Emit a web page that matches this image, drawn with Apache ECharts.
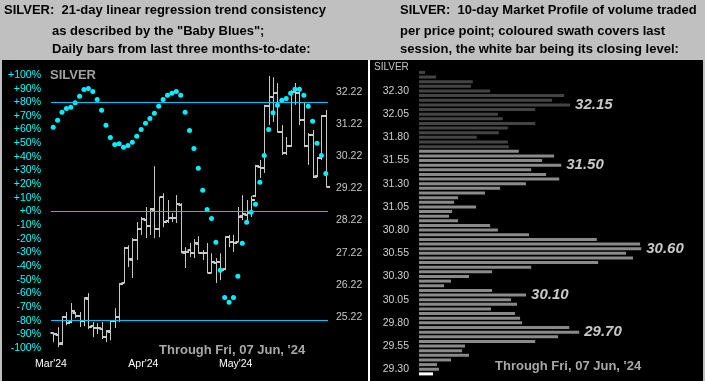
<!DOCTYPE html>
<html><head><meta charset="utf-8">
<script src="https://cdn.jsdelivr.net/npm/echarts@6/dist/echarts.min.js"></script>
<style>
html,body{margin:0;padding:0;background:#c0c0c0;}
#wrap{position:relative;width:705px;height:381px;overflow:hidden;background:#c0c0c0}
.panel{position:absolute;background:#000}
#chart{position:absolute;left:0;top:0;width:705px;height:381px}
</style>
</head><body>
<div id="wrap">
<div class="panel" style="left:2px;top:60px;width:701px;height:321px"></div>
<div class="panel" style="left:368px;top:60px;width:2px;height:321px;background:#fff"></div>
<div id="chart"></div>
</div>
<script>
// ---------- Left panel: daily bars (price) ----------
const opens  = [24.72,24.66,24.40,25.20,25.05,25.35,25.25,25.10,25.78,24.92,
                24.88,24.85,24.60,24.76,25.08,25.22,26.28,27.35,27.00,27.60,
                27.95,28.25,28.05,28.55,27.95,28.95,28.20,28.30,28.30,28.70,
                27.22,27.30,27.20,27.50,27.22,27.20,26.60,26.90,26.92,26.70,
                27.70,27.55,27.55,28.35,28.40,28.45,28.98,29.90,29.85,31.78,
                32.05,32.20,30.97,30.32,30.55,32.22,32.20,31.35,30.55,30.88,
                29.60,30.16,31.47];
const highs  = [24.74,24.90,25.24,25.37,25.65,25.37,25.37,25.83,25.96,25.06,
                25.02,25.06,24.81,25.12,25.49,26.27,27.39,27.45,27.67,28.17,
                28.33,28.64,28.61,29.91,28.95,29.07,28.86,28.45,29.01,28.76,
                27.39,27.52,27.64,27.73,27.30,27.52,27.20,27.05,27.20,27.73,
                27.77,27.77,28.64,29.01,28.86,28.98,29.95,30.10,31.82,32.72,
                32.68,32.50,31.19,30.82,32.28,32.50,32.38,31.91,30.94,31.04,
                30.20,31.50,31.66];
const lows   = [24.43,24.28,24.34,24.96,25.02,25.18,24.90,24.93,24.84,24.59,
                24.68,24.53,24.43,24.49,24.87,25.06,26.27,26.77,26.43,26.99,
                27.77,27.67,27.77,27.67,27.70,28.01,28.14,28.17,28.14,27.20,
                26.74,27.08,27.05,27.20,26.99,26.58,26.58,26.27,26.36,26.67,
                27.39,27.24,27.55,28.23,28.17,28.33,28.95,29.54,29.70,31.19,
                31.29,30.97,30.26,30.26,30.51,31.82,31.19,30.50,29.95,29.54,
                29.57,30.10,29.26];
const closes = [24.68,24.37,25.21,25.02,25.40,25.24,25.09,25.80,24.90,24.87,
                24.87,24.59,24.78,25.09,25.21,26.24,27.36,27.02,27.61,27.95,
                28.26,28.05,28.58,27.95,28.95,28.17,28.29,28.29,28.73,27.24,
                27.24,27.20,27.52,27.20,27.20,26.58,26.92,26.92,26.67,27.70,
                27.55,27.52,28.33,28.42,28.45,28.86,29.91,29.85,31.78,32.06,
                32.19,30.97,30.32,30.54,32.22,32.19,31.35,30.54,30.88,29.57,
                30.16,31.47,29.26];
// "Baby Blues": 21-day linear regression trend consistency (%)
const babyBlues = [61.8,66.9,72.7,75.5,76.4,79.6,84.5,89.4,90.1,87.9,
                   82.1,74.2,63.2,54.2,49.1,49.6,47.1,48.4,50.8,55.2,
                   60.1,64.7,68.1,72.0,77.1,82.1,85.2,86.7,87.9,85.2,
                   72.7,59.3,46.2,31.7,15.6,1.5,-5.1,-22.5,-43.0,-63.0,
                   -66.4,-63.0,-47.4,-23.2,-7.8,-0.5,5.3,21.5,41.0,60.1,
                   72.3,77.9,81.5,82.8,86.7,89.6,89.6,85.2,77.1,66.2,
                   50.0,41.0,27.8];
const trendLines = [80, 0, -80];
const monthLabels = ["Mar'24", "Apr'24", "May'24"];
const monthStartIdx = [0, 21, 42];
const priceTicks = [24.22,25.22,26.22,27.22,28.22,29.22,30.22,31.22,32.22];

// ---------- Right panel: 10-day market profile ----------
const profileLevels = ['29.25','29.30','29.35','29.40','29.45','29.50','29.55','29.60','29.65','29.70',
  '29.75','29.80','29.85','29.90','29.95','30.00','30.05','30.10','30.15','30.20',
  '30.25','30.30','30.35','30.40','30.45','30.50','30.55','30.60','30.65','30.70',
  '30.75','30.80','30.85','30.90','30.95','31.00','31.05','31.10','31.15','31.20',
  '31.25','31.30','31.35','31.40','31.45','31.50','31.55','31.60','31.65','31.70',
  '31.75','31.80','31.85','31.90','31.95','32.00','32.05','32.10','32.15','32.20',
  '32.25','32.30','32.35','32.40','32.45','32.50'];
const profileVolume = [6.3,9.0,8.1,14.4,22.5,19.4,20.7,52.3,62.6,72.1,
  67.6,46.4,45.5,43.2,32.4,44.1,41.4,48.2,32.9,11.3,
  14.4,22.5,32.9,50.5,80.6,96.3,93.2,100,99.5,80.0,
  49.5,35.5,32.0,17.6,13.5,14.9,25.7,15.8,17.6,29.7,
  36.5,48.1,63.1,57.2,50.5,64.0,55.4,60.8,44.9,40.4,
  40.0,26.0,35.9,40.0,52.3,37.7,35.5,52.3,68.0,59.9,
  65.3,32.0,23.4,24.2,7.7,2.7];
const profileMarks = ['32.15','31.50','30.60','30.10','29.70'];
const sessionHigh = 31.65, sessionLow = 29.30, closeLevel = '29.25';

// ---------- build ----------
const FONT = '"Liberation Sans", Arial, sans-serif';
const ohlcData = opens.map((o, i) => [i, o, highs[i], lows[i], closes[i]]);
const dotData = babyBlues.map((v, i) => [i, v]);
const monthPos = monthStartIdx.map(i => i - 0.5);

const profileData = profileLevels.map((lv, i) => {
  const p = parseFloat(lv);
  let col = '#444444';
  if (lv === closeLevel) col = '#ffffff';
  else if (p <= sessionHigh + 1e-9 && p >= sessionLow - 1e-9) col = '#8a8a8a';
  return {value: profileVolume[i], itemStyle: {color: col},
          label: {show: profileMarks.indexOf(lv) >= 0}};
});

function txt(x, y, text, font, fill) {
  return {type: 'text', x: x, y: y, silent: true,
    style: {text: text, font: font, fill: fill, verticalAlign: 'middle', align: 'left'}};
}

const chart = echarts.init(document.getElementById('chart'), null, {renderer: 'canvas'});
const option = {
  backgroundColor: 'transparent',
  animation: false,
  grid: [
    {left: 51, top: 75, width: 277, height: 273, outerBoundsMode: 'none', containLabel: false},
    {left: 419, top: 70.1, width: 280, height: 306.1, outerBoundsMode: 'none', containLabel: false}
  ],
  xAxis: [
    {gridIndex: 0, type: 'value', min: -0.5, max: 62.5,
     axisLine: {show: false}, axisTick: {show: false}, splitLine: {show: false},
     axisLabel: {customValues: monthPos, color: '#ffffff', fontSize: 10.5, fontFamily: FONT, margin: 11,
       formatter: v => { const k = monthPos.findIndex(m => Math.abs(m - v) < 1e-6); return k >= 0 ? monthLabels[k] : ''; }}},
    {gridIndex: 1, type: 'value', min: 0, max: 126, show: false}
  ],
  yAxis: [
    {gridIndex: 0, type: 'value', position: 'left', min: -100, max: 100, interval: 10,
     axisLine: {show: false}, axisTick: {show: false}, splitLine: {show: false},
     axisLabel: {color: '#00ffff', fontSize: 10.5, fontFamily: FONT, margin: 10,
       formatter: v => (v >= 0 ? '+' + v : '' + v) + '%'}},
    {gridIndex: 0, type: 'value', position: 'right', min: 24.25, max: 32.75,
     axisLine: {show: false}, axisTick: {show: false}, splitLine: {show: false},
     axisLabel: {customValues: priceTicks, color: '#c8c8c8', fontSize: 10.5, fontFamily: FONT, margin: 8,
       formatter: v => v.toFixed(2)}},
    {gridIndex: 1, type: 'category', data: profileLevels,
     axisLine: {show: false}, axisTick: {show: false}, splitLine: {show: false},
     axisLabel: {color: '#d0d0d0', fontSize: 10.5, fontFamily: FONT, margin: 10,
       interval: (idx) => idx % 5 === 1}}
  ],
  series: [
    {type: 'custom', xAxisIndex: 0, yAxisIndex: 1, data: ohlcData,
     dimensions: ['i', 'open', 'high', 'low', 'close'],
     encode: {x: 0, y: [1, 2, 3, 4]},
     renderItem: function (params, api) {
       const i = api.value(0);
       const ph = api.coord([i, api.value(2)]);
       const pl = api.coord([i, api.value(3)]);
       const po = api.coord([i, api.value(1)]);
       const pc = api.coord([i, api.value(4)]);
       const x = Math.round(ph[0]) + 0.5;
       const col = '#c8c8c8';
       return {type: 'group', children: [
         {type: 'line', shape: {x1: x, y1: ph[1], x2: x, y2: pl[1]}, style: {stroke: col, lineWidth: 1}},
         {type: 'line', shape: {x1: x - 3, y1: Math.round(po[1]), x2: x, y2: Math.round(po[1])}, style: {stroke: col, lineWidth: 2}},
         {type: 'line', shape: {x1: x, y1: Math.round(pc[1]), x2: x + 3.5, y2: Math.round(pc[1])}, style: {stroke: col, lineWidth: 2}}
       ]};
     }},
    {type: 'scatter', xAxisIndex: 0, yAxisIndex: 0, data: dotData,
     symbol: 'circle', symbolSize: 5, itemStyle: {color: '#00f0ff', opacity: 1}, z: 3,
     markLine: {silent: true, symbol: 'none', label: {show: false},
       lineStyle: {color: '#00c4ff', width: 1, type: 'solid', opacity: 1},
       emphasis: {disabled: true},
       data: trendLines.map(v => ({yAxis: v}))}},
    {type: 'bar', xAxisIndex: 1, yAxisIndex: 2, data: profileData, barWidth: 3,
     label: {position: 'right', distance: 5, color: '#c8c8c8', fontSize: 15, fontWeight: 'bold',
       fontStyle: 'italic', fontFamily: FONT, formatter: p => profileLevels[p.dataIndex]}}
  ],
  graphic: {elements: [
    txt(4, 10.5, 'SILVER:  21-day linear regression trend consistency', 'bold 13px ' + FONT, '#000'),
    txt(52, 31, 'as described by the "Baby Blues";', 'bold 13px ' + FONT, '#000'),
    txt(52, 49.5, 'Daily bars from last three months-to-date:', 'bold 13px ' + FONT, '#000'),
    txt(400, 10.5, 'SILVER:  10-day Market Profile of volume traded', 'bold 13px ' + FONT, '#000'),
    txt(400, 31, 'per price point; coloured swath covers last', 'bold 13px ' + FONT, '#000'),
    txt(400, 49.5, 'session, the white bar being its closing level:', 'bold 13px ' + FONT, '#000'),
    txt(50, 75.7, 'SILVER', 'bold 13px ' + FONT, '#a0a0a0'),
    txt(159, 350, "Through Fri, 07 Jun, '24", 'bold 13px ' + FONT, '#a8a8a8'),
    txt(374, 67, 'SILVER', '10px ' + FONT, '#c8c8c8'),
    txt(495, 366.7, "Through Fri, 07 Jun, '24", 'bold 13px ' + FONT, '#a8a8a8')
  ]}
};
chart.setOption(option);
</script>
</body></html>
